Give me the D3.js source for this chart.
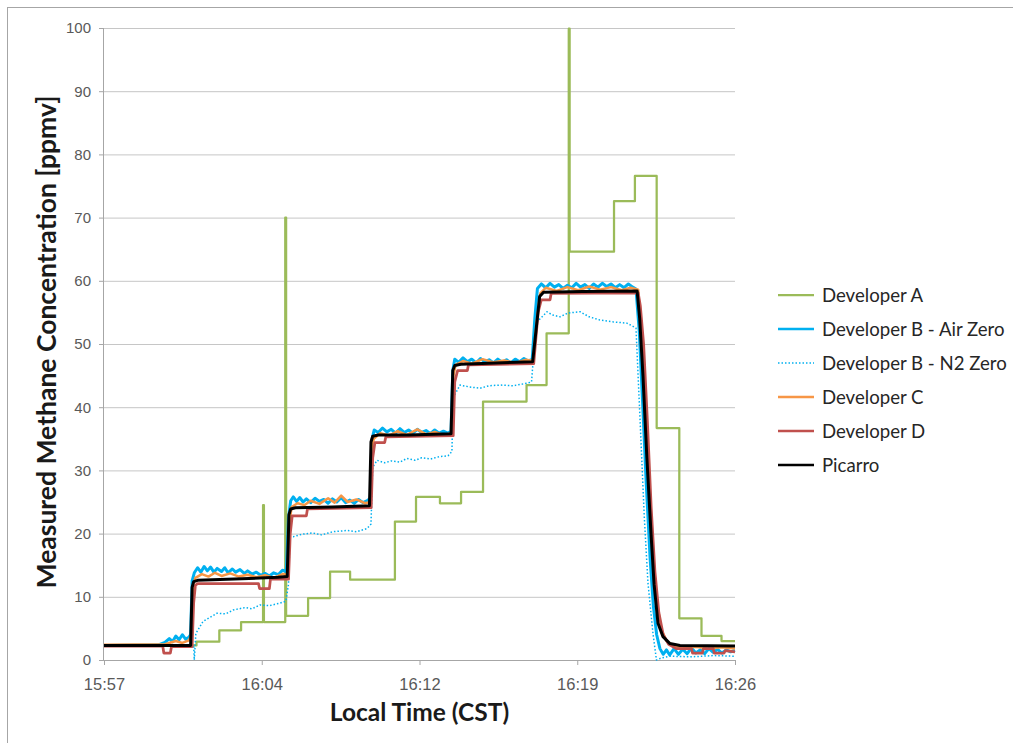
<!DOCTYPE html>
<html>
<head>
<meta charset="utf-8">
<script src="https://cdnjs.cloudflare.com/ajax/libs/d3/7.8.5/d3.min.js"></script>
<style>
  body { margin: 0; background: #fff; }
  svg { display: block; font-family: Lato, "Open Sans", sans-serif; }
</style>
</head>
<body>
<svg id="chart" width="1013" height="743"></svg>
<script>
// time is minutes after 15:57, values are ppmv
const xTickValues = [0, 7.25, 14.5, 21.75, 29];
const xTickLabels = ['15:57', '16:04', '16:12', '16:19', '16:26'];
const yTickValues = [0, 10, 20, 30, 40, 50, 60, 70, 80, 90, 100];

// Developer A reports a stepped value (each point holds until the next one)
const developerA = [
  [0, 2.3], [4.25, 2.9], [5.3, 4.7], [6.3, 6.0], [7.31, 24.5], [7.35, 6.0],
  [8.33, 70], [8.37, 7.0], [9.38, 9.8], [10.39, 14.0], [11.31, 12.7],
  [13.37, 21.9], [14.34, 25.8], [15.44, 24.8], [16.41, 26.6], [17.42, 40.9],
  [19.42, 43.5], [20.34, 51.7], [21.36, 99.9], [21.4, 64.6], [23.44, 72.6],
  [24.4, 76.6], [25.4, 36.7], [26.44, 6.6], [27.46, 3.8], [28.38, 3.0], [29, 3.0]
];

const developerBAir = [
  [0, 2.3], [2.5, 2.4], [2.8, 2.8], [3.0, 3.4], [3.15, 2.9], [3.3, 3.8], [3.45, 3.2],
  [3.6, 4.0], [3.75, 3.3], [3.9, 3.6], [3.98, 4.0], [4.05, 12.5], [4.15, 13.8],
  [4.3, 14.6], [4.45, 13.9], [4.6, 14.8], [4.75, 14.1], [4.9, 14.7], [5.05, 13.9],
  [5.2, 14.5], [5.4, 14.0], [5.55, 14.6], [5.7, 13.8], [5.9, 14.4], [6.05, 13.9],
  [6.25, 14.3], [6.45, 13.7], [6.6, 14.1], [6.8, 13.6], [7.0, 13.9], [7.2, 13.4],
  [7.4, 13.7], [7.6, 13.3], [7.8, 13.8], [8.0, 13.5], [8.2, 14.2], [8.38, 14.0],
  [8.48, 22.5], [8.58, 25.2], [8.7, 25.8], [8.85, 25.1], [9.0, 25.7], [9.15, 25.0],
  [9.3, 25.5], [9.5, 24.9], [9.7, 25.6], [9.9, 25.1], [10.1, 25.4], [10.3, 24.8],
  [10.5, 25.5], [10.7, 25.0], [10.9, 25.7], [11.1, 24.9], [11.3, 25.3], [11.5, 24.8],
  [11.7, 25.4], [11.9, 24.9], [12.1, 25.2], [12.24, 25.6], [12.32, 35.0], [12.42, 36.4],
  [12.6, 36.0], [12.8, 36.7], [13.0, 36.1], [13.2, 36.5], [13.4, 35.9], [13.6, 36.6],
  [13.8, 36.0], [14.0, 36.4], [14.2, 35.9], [14.4, 36.5], [14.6, 36.0], [14.8, 36.3],
  [15.0, 35.8], [15.2, 36.4], [15.4, 35.9], [15.6, 36.2], [15.8, 35.9], [15.95, 36.2],
  [16.03, 45.8], [16.12, 47.6], [16.3, 47.1], [16.5, 47.8], [16.7, 47.2], [16.9, 47.6],
  [17.1, 47.0], [17.3, 47.7], [17.5, 47.2], [17.7, 47.5], [17.9, 47.0], [18.1, 47.6],
  [18.3, 47.1], [18.5, 47.5], [18.7, 47.0], [18.9, 47.6], [19.1, 47.2], [19.3, 47.7],
  [19.5, 47.3], [19.68, 47.6], [19.8, 54.0], [19.92, 58.8], [20.1, 59.5], [20.3, 58.9],
  [20.5, 59.6], [20.7, 59.0], [20.9, 59.4], [21.1, 58.8], [21.3, 59.3], [21.5, 58.9],
  [21.7, 59.6], [21.9, 59.0], [22.1, 59.4], [22.3, 58.8], [22.5, 59.5], [22.7, 59.0],
  [22.9, 59.6], [23.1, 59.1], [23.3, 59.5], [23.5, 58.9], [23.7, 59.4], [23.9, 58.9],
  [24.1, 59.5], [24.3, 59.0], [24.45, 58.7], [24.6, 52.0], [24.75, 41.0], [24.92, 28.0],
  [25.1, 16.0], [25.25, 8.5], [25.4, 4.0], [25.55, 1.8], [25.7, 0.9], [25.85, 1.6],
  [26.0, 0.8], [26.2, 1.8], [26.4, 0.9], [26.6, 1.7], [26.8, 1.0], [27.0, 1.9],
  [27.2, 1.1], [27.4, 1.6], [27.6, 1.0], [27.8, 1.8], [28.0, 1.2], [28.2, 1.7],
  [28.4, 1.1], [28.6, 1.6], [28.8, 1.3], [29, 1.5]
];

const developerBN2 = [
  [0, 2.3], [4.12, 2.4], [4.15, 0], [4.22, 4.2], [4.55, 6.1], [5.19, 7.4], [5.6, 7.3],
  [5.93, 7.9], [6.48, 8.3], [6.8, 8.1], [7.17, 8.7], [7.6, 8.6], [8.09, 9.0], [8.36, 9.3],
  [8.48, 12.0], [8.55, 19.5], [8.69, 19.5], [9.1, 19.9], [9.6, 20.1], [10.0, 19.8],
  [10.52, 20.3], [11.2, 20.5], [11.6, 20.3], [12.09, 20.8], [12.27, 21.5], [12.35, 30.5],
  [12.55, 31.6], [12.9, 31.2], [13.2, 31.5], [13.6, 31.3], [13.92, 31.9], [14.3, 31.6],
  [14.6, 32.0], [15.0, 31.8], [15.44, 32.2], [15.81, 32.3], [15.99, 33.0], [16.05, 41.5],
  [16.36, 43.5], [16.8, 43.2], [17.28, 43.0], [17.7, 43.4], [18.2, 43.5], [18.8, 43.4],
  [19.44, 43.8], [19.65, 44.0], [19.78, 50.0], [19.9, 53.5], [20.36, 55.1], [20.6, 54.6],
  [20.96, 54.3], [21.32, 54.9], [21.88, 55.1], [22.3, 54.3], [22.79, 53.8], [23.4, 53.5],
  [24.03, 53.3], [24.31, 52.8], [24.45, 52.5], [24.63, 38.5], [24.83, 22.7], [25.0, 12.2],
  [25.23, 4.2], [25.39, 0], [25.6, 0.3], [26.0, 0.6], [27.0, 0.5], [28.0, 0.7], [29, 0.6]
];

const developerC = [
  [0, 2.4], [2.8, 2.5], [3.3, 3.0], [3.6, 2.7], [3.9, 3.1], [4.02, 4.0], [4.1, 11.8],
  [4.2, 13.0], [4.5, 13.6], [4.8, 13.2], [5.1, 13.8], [5.4, 13.3], [5.8, 13.7], [6.2, 13.2],
  [6.6, 13.5], [7.0, 13.1], [7.4, 13.4], [7.8, 13.0], [8.2, 13.6], [8.45, 13.4], [8.52, 21.5],
  [8.62, 24.2], [8.9, 24.8], [9.2, 24.5], [9.5, 25.2], [9.9, 24.7], [10.3, 25.6], [10.6, 24.9],
  [10.9, 26.0], [11.2, 25.0], [11.6, 25.4], [12.0, 24.8], [12.25, 25.0], [12.3, 33.5],
  [12.4, 35.0], [12.7, 35.9], [13.1, 35.5], [13.5, 36.2], [13.9, 35.6], [14.4, 36.5],
  [14.8, 35.7], [15.2, 36.1], [15.6, 35.6], [15.98, 35.9], [16.06, 45.0], [16.16, 46.7],
  [16.5, 47.3], [16.9, 46.9], [17.4, 47.6], [17.9, 47.1], [18.4, 47.4], [18.9, 47.0],
  [19.4, 47.5], [19.72, 47.3], [19.9, 54.0], [20.05, 58.0], [20.3, 58.9], [20.8, 58.4],
  [21.3, 59.0], [21.8, 58.5], [22.3, 59.1], [22.8, 58.6], [23.3, 59.0], [23.8, 58.5],
  [24.2, 58.9], [24.55, 58.6], [24.68, 52.0], [24.85, 42.0], [25.03, 29.0], [25.22, 17.0],
  [25.4, 9.5], [25.6, 5.0], [25.85, 3.0], [26.2, 2.2], [26.6, 1.9], [27.2, 2.1], [27.8, 1.8],
  [28.4, 2.0], [29, 1.8]
];

const developerD = [
  [0, 2.2], [2.7, 2.2], [2.75, 1.1], [3.05, 1.1], [3.1, 2.1], [4.05, 2.1], [4.12, 9.0],
  [4.2, 11.8], [4.3, 12.1], [7.1, 12.1], [7.15, 11.3], [7.6, 11.3], [7.65, 12.8], [8.48, 12.8],
  [8.56, 20.0], [8.65, 22.8], [9.3, 22.8], [9.35, 23.9], [12.28, 24.1], [12.35, 32.0],
  [12.45, 34.4], [12.9, 34.4], [12.95, 35.3], [16.05, 35.5], [16.12, 44.0], [16.25, 45.8],
  [16.7, 45.8], [16.75, 46.7], [19.75, 46.9], [19.95, 55.0], [20.1, 57.0], [20.5, 57.0],
  [20.55, 58.0], [24.55, 58.1], [24.65, 56.0], [24.8, 50.0], [24.97, 38.0], [25.15, 24.0],
  [25.32, 14.0], [25.5, 7.5], [25.7, 4.0], [25.95, 2.5], [26.3, 1.8], [27.0, 1.8], [27.05, 1.1],
  [27.5, 1.1], [27.55, 1.8], [28.0, 1.8], [28.05, 1.1], [28.5, 1.1], [28.55, 1.5], [29, 1.3]
];

const picarro = [
  [0, 2.3], [3.98, 2.3], [4.05, 11.5], [4.12, 12.4], [4.3, 12.6], [6.0, 12.8], [8.0, 13.1],
  [8.42, 13.2], [8.5, 23.0], [8.58, 23.9], [8.8, 24.1], [10.5, 24.2], [12.2, 24.4],
  [12.27, 34.5], [12.35, 35.4], [12.6, 35.6], [14.0, 35.6], [15.95, 35.8], [16.03, 45.8],
  [16.12, 46.6], [16.4, 46.8], [18.0, 47.0], [19.7, 47.2], [19.85, 52.0], [20.02, 57.5],
  [20.2, 58.2], [22.0, 58.3], [24.5, 58.4], [24.62, 54.0], [24.77, 45.0], [24.95, 32.0],
  [25.14, 20.0], [25.28, 12.0], [25.46, 5.8], [25.69, 3.7], [26.01, 2.6], [26.47, 2.3],
  [29, 2.2]
];

const seriesNames = ['Developer A', 'Developer B - Air Zero', 'Developer B - N2 Zero',
  'Developer C', 'Developer D', 'Picarro'];

const styles = [
  { data: developerA, color: '#9bbb59', width: 2.25, dash: null, step: true },
  { data: developerBAir, color: '#00b0f0', width: 3, dash: null },
  { data: developerBN2, color: '#00b0f0', width: 1.5, dash: '1.5,2' },
  { data: developerC, color: '#f79646', width: 2.5, dash: null },
  { data: developerD, color: '#c0504d', width: 2.75, dash: null },
  { data: picarro, color: '#000000', width: 3, dash: null }
];

const margin = { top: 28, right: 278, bottom: 83, left: 104 };
const width = 1013 - margin.left - margin.right;
const height = 743 - margin.top - margin.bottom;

const svg = d3.select('#chart');

// outer chart border (only left and top edges fall inside the picture)
svg.append('rect')
  .attr('x', 7.5).attr('y', 7.5)
  .attr('width', 1030).attr('height', 760)
  .attr('fill', 'none')
  .attr('stroke', '#a6a6a6');

const x = d3.scaleLinear().domain([0, 29]).range([0, width]);
const y = d3.scaleLinear().domain([0, 100]).range([height, 0]);

const g = svg.append('g')
  .attr('transform', `translate(${margin.left},${margin.top})`);

// gridlines
g.append('g')
  .attr('class', 'grid')
  .call(d3.axisLeft(y).tickValues(yTickValues.slice(1)).tickSize(-width).tickFormat(''))
  .call(s => s.select('.domain').remove())
  .call(s => s.selectAll('line').attr('stroke', '#c6c6c6'));

const yAxis = g.append('g')
  .call(d3.axisLeft(y).tickValues(yTickValues).tickSize(5).tickPadding(8));
yAxis.select('.domain').attr('stroke', '#a6a6a6').attr('d', `M-0.5,${height}V0`);
yAxis.selectAll('line').attr('stroke', '#a6a6a6');
yAxis.selectAll('text').attr('fill', '#595959').style('font-size', '15px');

const xAxis = g.append('g')
  .attr('transform', `translate(0,${height})`)
  .call(d3.axisBottom(x).tickValues(xTickValues)
    .tickFormat((d, i) => xTickLabels[i]).tickSize(5).tickPadding(13));
xAxis.select('.domain').attr('stroke', '#a6a6a6');
xAxis.selectAll('line').attr('stroke', '#a6a6a6');
xAxis.selectAll('text').attr('fill', '#595959').style('font-size', '16.5px');

// series
const plot = g.append('g');
styles.forEach(s => {
  const line = d3.line()
    .x(d => x(d[0]))
    .y(d => y(d[1]))
    .curve(s.step ? d3.curveStepAfter : d3.curveLinear);
  plot.append('path')
    .datum(s.data)
    .attr('fill', 'none')
    .attr('stroke', s.color)
    .attr('stroke-width', s.width)
    .attr('stroke-linejoin', 'round')
    .attr('stroke-dasharray', s.dash)
    .attr('d', line);
});

// axis titles
svg.append('text')
  .attr('transform', 'translate(56,342) rotate(-90)')
  .attr('text-anchor', 'middle')
  .style('font-size', '26.5px')
  .style('font-weight', 'bold')
  .attr('fill', '#1a1a1a')
  .text('Measured Methane Concentration [ppmv]');

svg.append('text')
  .attr('x', margin.left + width / 2)
  .attr('y', 721)
  .attr('text-anchor', 'middle')
  .style('font-size', '24.5px')
  .style('font-weight', 'bold')
  .attr('fill', '#1a1a1a')
  .text('Local Time (CST)');

// legend
const legend = svg.append('g').attr('transform', 'translate(778,295)');
styles.forEach((s, i) => {
  const row = legend.append('g').attr('transform', `translate(0,${i * 34})`);
  row.append('line')
    .attr('x1', 0).attr('x2', 36)
    .attr('y1', 0).attr('y2', 0)
    .attr('stroke', s.color)
    .attr('stroke-width', Math.min(s.width, 2.5))
    .attr('stroke-dasharray', s.dash);
  row.append('text')
    .attr('x', 44)
    .attr('y', 0)
    .attr('dy', '0.35em')
    .style('font-size', '18.6px')
    .attr('fill', '#262626')
    .text(seriesNames[i]);
});
</script>
</body>
</html>
